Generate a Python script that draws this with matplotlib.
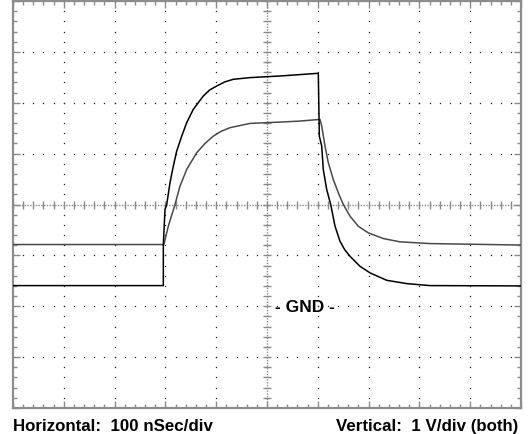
import numpy as np
import matplotlib
matplotlib.use('Agg')
import matplotlib.pyplot as plt

# ── Scope traces (x in divisions of 100 ns, y in divisions of 1 V, 0 = screen centre) ──
x_black = [0, 2.959, 2.959, 2.992, 3.026, 3.091, 3.156, 3.222, 3.321, 3.419, 3.549, 3.746,
           3.870, 4.010, 4.170, 4.337, 4.665, 5.256, 6.010, 6.030, 6.077, 6.108, 6.175,
           6.254, 6.339, 6.437, 6.530, 6.634, 6.831, 7.028, 7.356, 7.750, 8.209, 10]
y_black = [-1.594, -1.594, -0.787, -0.098, 0, 0.433, 0.754, 1.049, 1.344, 1.608, 1.870, 2.132,
           2.250, 2.329, 2.410, 2.461, 2.494, 2.526, 2.579, 1.344, 1.148, 0.689, 0.295,
           0, -0.427, -0.722, -0.890, -1.018, -1.215, -1.344, -1.490, -1.555, -1.594, -1.600]

x_gray = [0, 2.97, 3.057, 3.189, 3.287, 3.419, 3.616, 3.780, 3.943, 4.100, 4.272, 4.665,
          5.256, 5.650, 6.043, 6.077, 6.142, 6.207, 6.305, 6.404, 6.502, 6.634, 6.797,
          6.994, 7.289, 7.618, 8.209, 10]
y_gray = [-0.787, -0.787, -0.427, 0, 0.360, 0.689, 1.018, 1.200, 1.344, 1.440, 1.510, 1.594,
          1.620, 1.640, 1.673, 1.541, 1.148, 0.821, 0.492, 0.230, 0, -0.230, -0.427,
          -0.557, -0.669, -0.734, -0.768, -0.797]

gnd_level = -2
x_label = 'Horizontal:  100 nSec/div'
y_label = 'Vertical:  1 V/div (both)'

plt.rcParams['font.family'] = ['Liberation Sans', 'DejaVu Sans']

fig = plt.figure(figsize=(5.29, 4.35), dpi=100)
ax = fig.add_axes([13/529, 26/435, 508/529, 407/435])
ax.set_xlim(0, 10)
ax.set_ylim(-4, 4)

# graticule: dotted grid, one dot every 0.2 div
fine = np.arange(0, 10.01, 0.2)
fine_y = np.arange(-4, 4.01, 0.2)
for gx in range(1, 10):
    if gx == 5:
        continue
    ax.plot(np.full_like(fine_y, gx), fine_y, ls='none', marker='s', ms=0.9,
            mew=0, color='#222222')
for gy in range(-3, 4):
    if gy == 0:
        continue
    ax.plot(fine, np.full_like(fine, gy), ls='none', marker='s', ms=0.9,
            mew=0, color='#222222')

# centre crosshair with tick marks
ax.axhline(0, color='#8a8a8a', lw=1, ls=(0, (1, 1)))
ax.axvline(5, color='#8a8a8a', lw=1, ls=(0, (1, 1)))
ax.plot(fine, np.zeros_like(fine), ls='none', marker='|', ms=6, mew=1, color='#8a8a8a')
ax.plot(np.full_like(fine_y, 5), fine_y, ls='none', marker='_', ms=6, mew=1, color='#8a8a8a')

# traces
ax.plot(x_gray, y_gray, color='#4a4a4a', lw=1.1, zorder=5)
ax.plot(x_black, y_black, color='#000000', lw=1.1, zorder=6)

ax.text(5.75, gnd_level, '- GND -', ha='center', va='center', fontsize=12.5,
        fontweight='bold', zorder=7)

# border with inner ticks
for s in ax.spines.values():
    s.set_color('#8c8c8c')
    s.set_linewidth(1.6)
ax.set_xticks(np.arange(0, 11, 1))
ax.set_yticks(np.arange(-4, 5, 1))
ax.set_xticks(fine, minor=True)
ax.set_yticks(fine_y, minor=True)
ax.tick_params(which='both', direction='in', top=True, right=True, color='#8c8c8c',
               labelbottom=False, labelleft=False)
ax.tick_params(which='major', length=5, width=1)
ax.tick_params(which='minor', length=3, width=1)

fig.text(13/529, 4/435, x_label, ha='left', va='baseline', fontsize=12.2, fontweight='bold')
fig.text(518/529, 4/435, y_label, ha='right', va='baseline', fontsize=12.2, fontweight='bold')

fig.savefig('out.png', dpi=100)
